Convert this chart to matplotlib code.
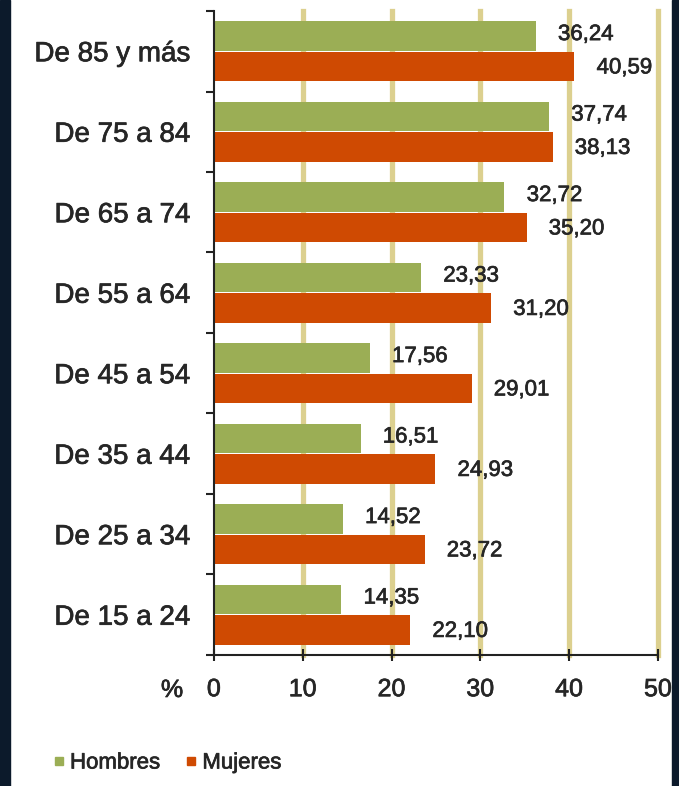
import matplotlib.pyplot as plt
import matplotlib.patheffects as pe
from matplotlib.patches import Rectangle
from matplotlib.lines import Line2D

plt.rcParams['font.family'] = ['Liberation Sans', 'DejaVu Sans']

# Data (bottom to top)
groups = ['De 15 a 24', 'De 25 a 34', 'De 35 a 44', 'De 45 a 54',
          'De 55 a 64', 'De 65 a 74', 'De 75 a 84', 'De 85 y más']
hombres = [14.35, 14.52, 16.51, 17.56, 23.33, 32.72, 37.74, 36.24]
mujeres = [22.10, 23.72, 24.93, 29.01, 31.20, 35.20, 38.13, 40.59]
xticks = [0, 10, 20, 30, 40, 50]

green = '#9bae55'
orange = '#cf4a02'
grid_col = '#dcd08f'
text_col = '#262626'
# slightly heavier strokes on the text
heavy = [pe.withStroke(linewidth=0.5, foreground=text_col)]

fig = plt.figure(figsize=(6.79, 7.86), dpi=100)
ax = fig.add_axes([0.315, 0.1667, 0.654, 0.8193])

# dark side strips
fig.patches.append(Rectangle((0, 0), 10 / 679, 1, transform=fig.transFigure,
                             color='#0c1a2b', zorder=0))
fig.patches.append(Rectangle((672 / 679, 0), 7 / 679, 1, transform=fig.transFigure,
                             color='#0c1a2b', zorder=0))

pos = list(range(len(groups)))
h = 0.37
off = 0.19
ax.barh([p + off for p in pos], hombres, height=h, color=green, zorder=3)
ax.barh([p - off for p in pos], mujeres, height=h, color=orange, zorder=3)

# vertical grid lines
for x in xticks[1:]:
    ax.axvline(x, color=grid_col, lw=3.8, zorder=1, clip_on=False)

# value labels, comma decimals
for p, v in zip(pos, hombres):
    ax.annotate(f'{v:.2f}'.replace('.', ','), (v, p + off), xytext=(16, 1),
                textcoords='offset points', va='center', ha='left',
                fontsize=16, color=text_col, zorder=4, path_effects=heavy)
for p, v in zip(pos, mujeres):
    ax.annotate(f'{v:.2f}'.replace('.', ','), (v, p - off), xytext=(16, -1),
                textcoords='offset points', va='center', ha='left',
                fontsize=16, color=text_col, zorder=4, path_effects=heavy)

ax.set_xlim(0, 50)
ax.set_ylim(-0.5, len(groups) - 0.5)

ax.set_yticks(pos)
ax.set_yticklabels(groups, fontsize=20, color=text_col, path_effects=heavy)
ax.set_yticks([p - 0.5 for p in range(len(groups) + 1)], minor=True)
ax.tick_params(axis='y', which='major', length=0, pad=17)
ax.tick_params(axis='y', which='minor', length=6, width=1.5, direction='out',
               color='#222222')

ax.set_xticks(xticks)
ax.set_xticklabels([str(t) for t in xticks], fontsize=18, color=text_col,
                   path_effects=heavy)
ax.tick_params(axis='x', length=8, width=1.5, direction='inout', pad=12,
               color='#222222')

for s in ['top', 'right']:
    ax.spines[s].set_visible(False)
for s in ['left', 'bottom']:
    ax.spines[s].set_linewidth(1.5)
    ax.spines[s].set_color('#222222')
    ax.spines[s].set_zorder(5)

fig.text(172 / 679, 1 - 690 / 786, '%', fontsize=18, color=text_col,
         ha='center', va='center', path_effects=heavy)

# legend
handles = [Line2D([], [], marker='s', ls='none', color=green, markersize=6),
           Line2D([], [], marker='s', ls='none', color=orange, markersize=6)]
leg = fig.legend(handles, ['Hombres', 'Mujeres'], loc='center left',
                 bbox_to_anchor=(30 / 679, 1 - 763 / 786), ncol=2, frameon=False,
                 fontsize=16, handletextpad=0.1, columnspacing=1.0,
                 handlelength=0.8, labelcolor=text_col)
for t in leg.get_texts():
    t.set_path_effects(heavy)

fig.savefig('out.png', dpi=100)
